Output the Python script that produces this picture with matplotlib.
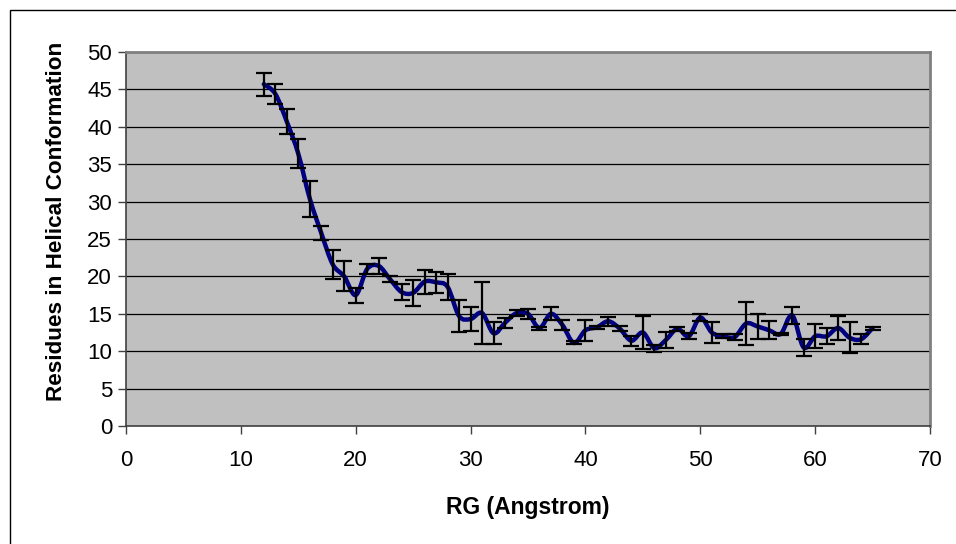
import numpy as np
import matplotlib.pyplot as plt
from matplotlib.path import Path
from matplotlib.patches import PathPatch, Rectangle

plt.rcParams['font.family'] = ['Liberation Sans', 'DejaVu Sans']

# radius of gyration vs. helical residues, mean and error per bin
rg = list(range(12, 66))
helical = [45.7, 44.4, 40.7, 36.4, 30.4, 25.8, 21.6, 20.0, 17.5, 21.0,
           21.4, 19.6, 17.9, 17.8, 19.3, 19.2, 18.6, 14.7, 14.3, 15.1,
           12.4, 13.8, 15.1, 15.0, 13.1, 15.0, 13.5, 11.1, 12.8, 13.2,
           14.0, 13.0, 11.4, 12.5, 10.4, 11.5, 13.0, 12.0, 14.5, 12.5,
           12.0, 11.9, 13.7, 13.3, 12.8, 12.3, 14.8, 10.5, 12.0, 12.0,
           13.1, 11.8, 11.6, 13.1]
err = [1.55, 1.3, 1.7, 1.95, 2.4, 1.0, 1.95, 2.0, 1.0, 0.65,
       1.1, 0.4, 1.05, 1.7, 1.6, 1.45, 1.7, 2.1, 1.65, 4.2,
       1.5, 0.65, 0.45, 0.65, 0.2, 0.85, 0.7, 0.2, 1.4, 0.2,
       0.6, 0.35, 0.65, 2.2, 0.45, 1.05, 0.3, 0.4, 0.45, 1.45,
       0.3, 0.35, 2.9, 1.65, 1.2, 0.2, 1.1, 1.1, 1.6, 1.1,
       1.55, 2.1, 0.65, 0.2]


def smooth_path(x, y):
    # Catmull-Rom segments as cubic Bezier curves (like a "smoothed line")
    x = np.asarray(x, float)
    y = np.asarray(y, float)
    verts = [(x[0], y[0])]
    codes = [Path.MOVETO]
    n = len(x)
    for i in range(n - 1):
        x0, y0 = (x[i - 1], y[i - 1]) if i > 0 else (x[i], y[i])
        x3, y3 = (x[i + 2], y[i + 2]) if i < n - 2 else (x[i + 1], y[i + 1])
        c1 = (x[i] + (x[i + 1] - x0) / 6, y[i] + (y[i + 1] - y0) / 6)
        c2 = (x[i + 1] - (x3 - x[i]) / 6, y[i + 1] - (y3 - y[i]) / 6)
        verts += [c1, c2, (x[i + 1], y[i + 1])]
        codes += [Path.CURVE4] * 3
    return Path(verts, codes)


fig = plt.figure(figsize=(9.56, 5.44), dpi=100)
fig.patch.set_facecolor('white')
fig.patches.append(Rectangle((10 / 956, -0.1), 1.0, 1.1 - 10 / 544,
                             transform=fig.transFigure, fill=False,
                             edgecolor='black', linewidth=1.0))

ax = fig.add_axes([126 / 956, 118 / 544, 804 / 956, 374 / 544])
ax.set_facecolor('#C0C0C0')

ax.set_xlim(0, 70)
ax.set_ylim(0, 50)
ax.set_xticks(range(0, 71, 10))
ax.set_yticks(range(0, 51, 5))
ax.yaxis.grid(True, color='black', linewidth=0.9)
ax.set_axisbelow(True)

ax.add_patch(PathPatch(smooth_path(rg, helical), facecolor='none',
                       edgecolor='#000080', linewidth=3.2, zorder=3,
                       capstyle='round', joinstyle='round'))
ax.errorbar(rg, helical, yerr=err, fmt='none', ecolor='black',
            elinewidth=1.6, capsize=5.5, capthick=1.6, zorder=4)

for side in ('top', 'right'):
    ax.spines[side].set_color('#808080')
    ax.spines[side].set_linewidth(2.0)
for side in ('left', 'bottom'):
    ax.spines[side].set_color('#404040')
    ax.spines[side].set_linewidth(1.2)

ax.tick_params(direction='out', length=6, width=1, color='#404040',
               labelsize=16, pad=4)
ax.tick_params(axis='x', pad=11)
ax.set_xlabel('RG (Angstrom)', fontsize=16.5, fontweight='bold', labelpad=18)
ax.set_ylabel('Residues in Helical Conformation', fontsize=16.2,
              fontweight='bold', va='center')
ax.yaxis.set_label_coords(-0.086, 0.548)

fig.savefig('out.png', dpi=100)
